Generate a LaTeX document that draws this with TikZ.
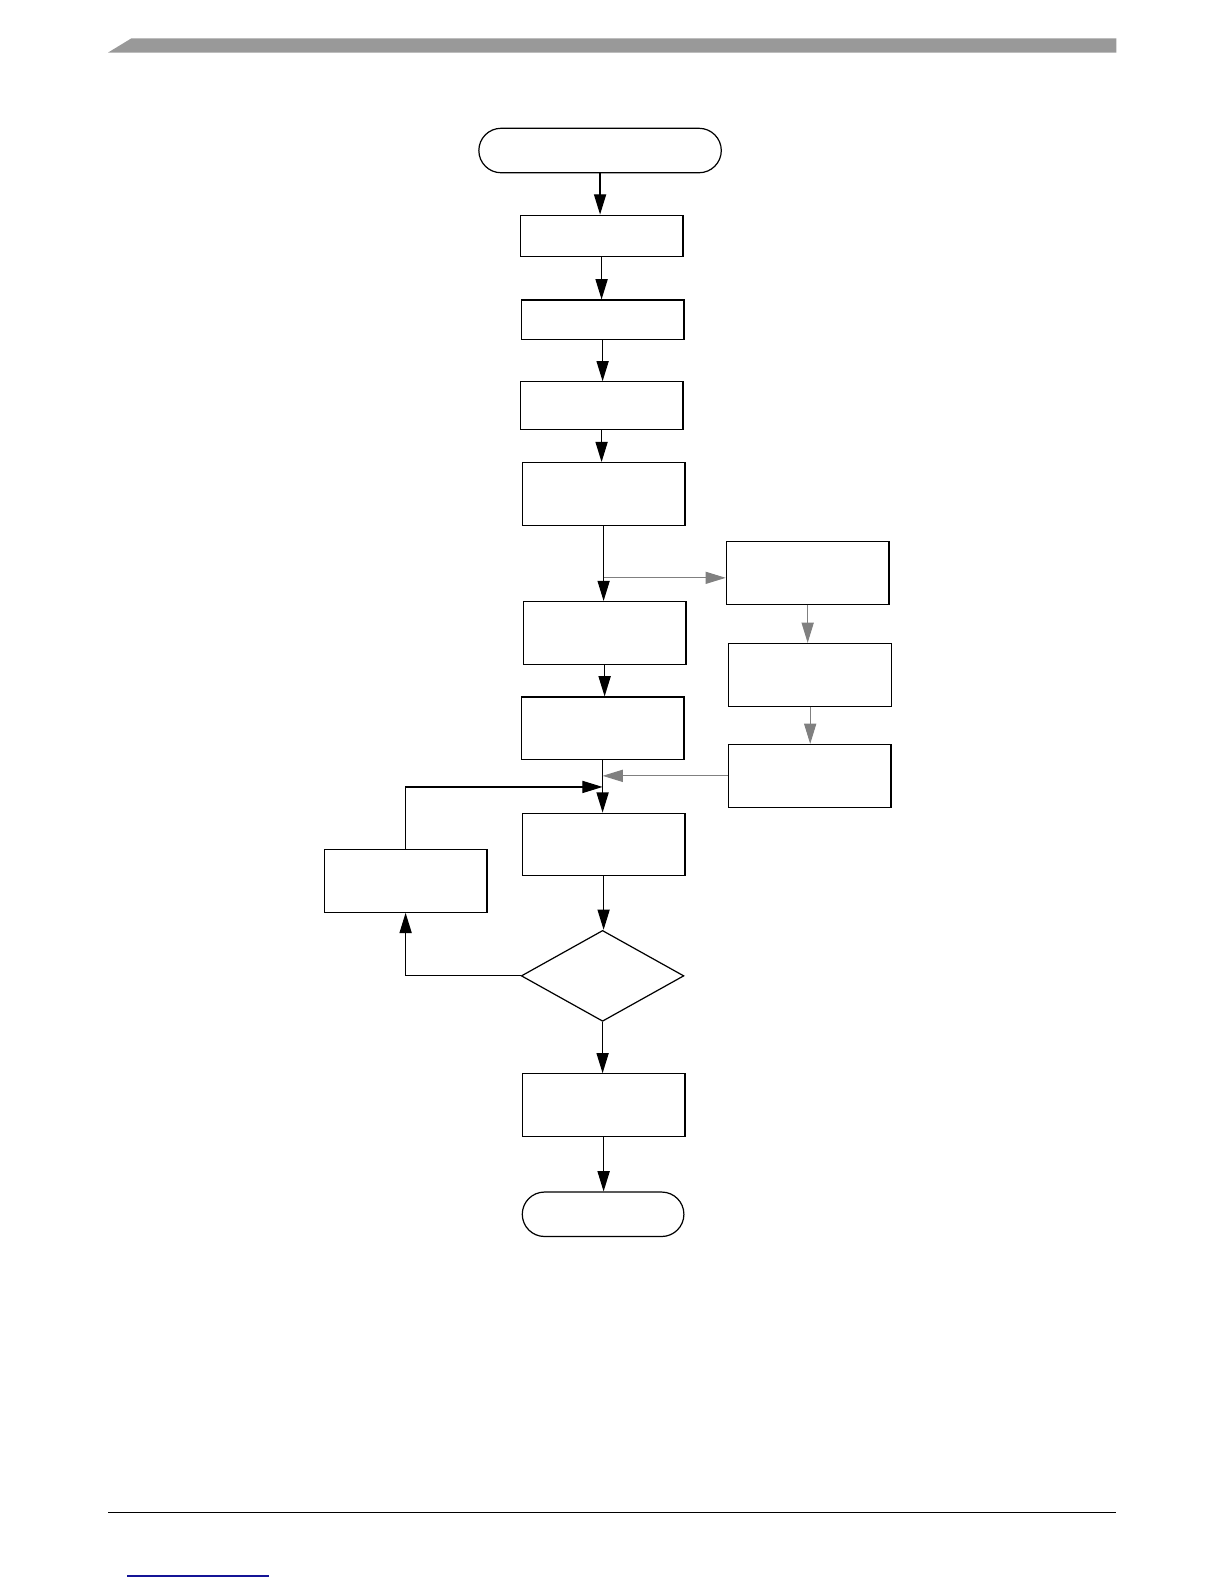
\documentclass[tikz,border=0pt]{standalone}
\usepackage{tikz}
\usetikzlibrary{arrows.meta,shapes.geometric}
\definecolor{bargray}{RGB}{153,153,153}
\definecolor{optgray}{RGB}{128,128,128}
\definecolor{linkblue}{RGB}{20,20,150}

\begin{document}
\begin{tikzpicture}[x=0.5pt,y=-0.5pt,line width=0.6pt,>={Triangle[length=10pt,width=6pt]},
  box/.style={draw,rectangle,inner sep=0pt,minimum width=80.5pt,minimum height=31pt},
  term/.style={draw,rectangle,rounded corners=11pt,inner sep=0pt,minimum height=22pt},
  decide/.style={draw,diamond,inner sep=0pt,minimum width=80.5pt,minimum height=45pt},
  side/.style={->,draw=optgray,line width=0.5pt}]
  \useasboundingbox (0,0) rectangle (1212,1568);
  \fill[bargray] (107,52) -- (130,38) -- (1105,38) -- (1105,52) -- cycle;
  \draw[line width=0.7pt] (107,1497) -- (1105,1497);
  \draw[linkblue] (126,1560) -- (266,1560);
  \node[term,minimum width=120pt] (start) at (594,149) {};
  \node[box,minimum height=20.5pt] (b1) at (595.5,233.5) {};
  \node[box,minimum height=19.5pt] (b2) at (596.5,316.5) {};
  \node[box,minimum height=23.5pt] (b3) at (595.5,401.5) {};
  \node[box] (b4) at (597.5,489) {};
  \node[box] (b5) at (598.5,626.5) {};
  \node[box] (b6) at (596.5,721) {};
  \node[box] (b7) at (597.5,836) {};
  \node[decide] (dec) at (596.5,966) {};
  \node[box] (b8) at (597.5,1094) {};
  \node[term,minimum width=80pt] (stop) at (597,1202) {};
  \node[box] (r1) at (799.5,567) {};
  \node[box] (r2) at (802,668) {};
  \node[box] (r3) at (801.5,768) {};
  \node[box] (lp) at (401.5,872) {};
  \coordinate (fork) at (b4.south |- 0,572);
  \coordinate (join) at (b6.south |- r3.west);
  \coordinate (back) at (b6.south |- 0,779);
  \foreach \a/\b in {start/b1,b1/b2,b2/b3,b3/b4,b4/b5,b5/b6,b6/b7,b7/dec,dec/b8,b8/stop}
    \draw[->] (\a) -- (\a |- \b.north);
  \draw[side] (fork) -- (fork -| r1.west);
  \draw[side] (r1) -- (r1 |- r2.north);
  \draw[side] (r2) -- (r2 |- r3.north);
  \draw[side] (r3) -- (join);
  \draw[->] (lp) |- (back);
  \draw[->] (dec) -| (lp);
\end{tikzpicture}
\end{document}
